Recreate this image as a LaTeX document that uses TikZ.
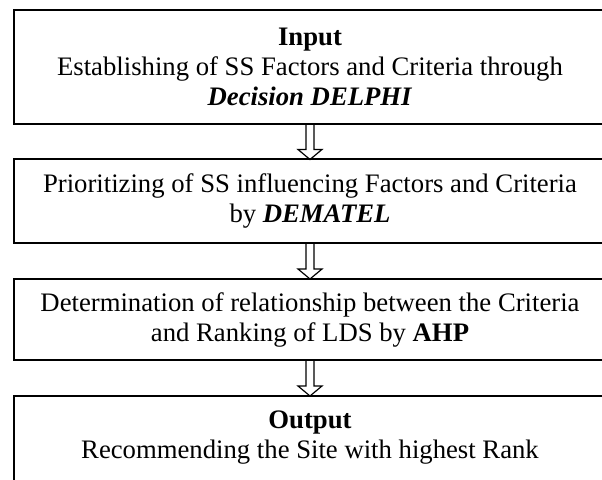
\documentclass[tikz,border=0pt]{standalone}
\usepackage{fontspec}
\setmainfont{Liberation Serif}
\usetikzlibrary{calc}

\tikzset{
  stagefont/.style={font=\fontsize{13.35}{15}\selectfont},
  stage/.style={draw, rectangle, line width=1pt, minimum width=296pt,
    inner sep=0pt, outer sep=0pt, align=center, stagefont},
  stagetext/.style={inner sep=0pt, outer sep=0pt, align=center, stagefont},
  blockarrow/.style={draw, line width=0.6pt, line join=miter},
}

\begin{document}
\begin{tikzpicture}[x=0.5pt, y=-0.5pt]
  \path[use as bounding box, clip] (0,0) rectangle (602,480);

  % process stages, top to bottom
  \node[stage, minimum height=57pt] (input) at (310,67)
    {\textbf{Input}\\Establishing of SS Factors and Criteria through\\\textbf{\textit{Decision DELPHI}}};
  \node[stage, minimum height=41.75pt] (dematel) at (310,201.25)
    {Prioritizing of SS influencing Factors and Criteria\\by \textbf{\textit{DEMATEL}}};
  \node[stage, minimum height=40.5pt] (ahp) at (310,319.5)
    {Determination of relationship between the Criteria\\and Ranking of LDS by \textbf{AHP}};
  \node[stage, minimum height=52pt] (output) at (310,448) {};
  \node[stagetext] (outputtext) at (310,438)
    {\textbf{Output}\\Recommending the Site with highest Rank};

  % hollow block arrows between consecutive stages
  \foreach \a/\b in {input/dematel, dematel/ahp, ahp/output} {
    \draw[blockarrow]
      ($(\a.south)+(-4,0)$) -- ($(\b.north)+(-4,-10)$) -- ($(\b.north)+(-12,-10)$)
      -- (\b.north)
      -- ($(\b.north)+(12,-10)$) -- ($(\b.north)+(4,-10)$) -- ($(\a.south)+(4,0)$);
  }
\end{tikzpicture}
\end{document}
